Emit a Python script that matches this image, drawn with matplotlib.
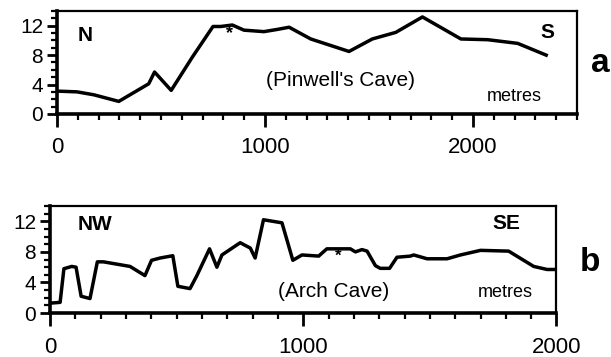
import matplotlib
matplotlib.use("Agg")
import matplotlib.pyplot as plt
from matplotlib.ticker import MultipleLocator

plt.rcParams["font.family"] = ["Liberation Sans", "DejaVu Sans"]

# profile a: Pinwell's Cave (distance m, height m)
a_x = [0, 96, 177, 297, 441, 469, 549, 650, 750, 787, 843, 899, 995, 1059, 1116,
       1220, 1404, 1516, 1629, 1757, 1942, 2071, 2215, 2352]
a_y = [3.1, 3.0, 2.6, 1.7, 4.1, 5.7, 3.2, 7.7, 11.9, 11.9, 12.1, 11.4, 11.2, 11.5, 11.8,
       10.2, 8.5, 10.2, 11.1, 13.2, 10.2, 10.1, 9.6, 8.0]

# profile b: Arch Cave
b_x = [0, 40, 55, 86, 103, 123, 158, 187, 211, 316, 375, 401, 435, 485, 505, 553, 580,
       630, 659, 679, 751, 791, 810, 843, 916, 959, 995, 1061, 1093, 1186, 1206, 1232,
       1252, 1285, 1304, 1341, 1370, 1423, 1436, 1489, 1568, 1621, 1700, 1811, 1910,
       1963, 2000]
b_y = [1.3, 1.4, 5.8, 6.1, 6.0, 2.2, 1.9, 6.7, 6.7, 6.1, 4.9, 6.9, 7.2, 7.5, 3.5, 3.2, 4.9,
       8.4, 6.0, 7.6, 9.2, 8.5, 7.2, 12.2, 11.8, 6.9, 7.6, 7.45, 8.4, 8.4, 8.0, 8.3,
       8.1, 6.2, 5.85, 5.85, 7.3, 7.45, 7.6, 7.1, 7.1, 7.6, 8.2, 8.1, 6.1,
       5.7, 5.7]

fig = plt.figure(figsize=(6.11, 3.57), dpi=100)
ax_a = fig.add_axes([0.0933, 0.681, 0.851, 0.288])
ax_b = fig.add_axes([0.0818, 0.123, 0.829, 0.300])


def style(ax, xmax):
    ax.set_xlim(0, xmax); ax.set_ylim(0, 14)
    ax.xaxis.set_major_locator(MultipleLocator(1000))
    ax.xaxis.set_minor_locator(MultipleLocator(100))
    ax.yaxis.set_major_locator(MultipleLocator(4))
    ax.yaxis.set_minor_locator(MultipleLocator(1))
    for s in ax.spines.values():
        s.set_linewidth(1.6)
    ax.spines["bottom"].set_linewidth(2.6)
    ax.spines["left"].set_linewidth(2.6)
    ax.tick_params(which="major", length=7, width=2.0, labelsize=15, pad=3)
    ax.tick_params(which="minor", length=4, width=1.6)
    ax.tick_params(axis="x", which="major", length=9, pad=8, labelsize=16)


style(ax_a, 2500)
ax_a.plot(a_x, a_y, color="black", lw=2.5)
ax_a.text(827, 10.9, "*", fontsize=13, ha="center", va="center", fontweight="bold")
ax_a.text(137, 10.7, "N", fontsize=15, fontweight="bold", ha="center", va="center")
ax_a.text(2360, 11.1, "S", fontsize=15, fontweight="bold", ha="center", va="center")
ax_a.text(1364, 4.6, "(Pinwell's Cave)", fontsize=15, ha="center", va="center")
ax_a.text(2198, 2.3, "metres", fontsize=13, ha="center", va="center")
fig.text(0.982, 0.823, "a", fontsize=24, fontweight="bold", ha="center", va="center")

style(ax_b, 2000)
ax_b.plot(b_x, b_y, color="black", lw=2.5)
ax_b.text(1137, 7.4, "*", fontsize=12, ha="center", va="center", fontweight="bold")
ax_b.text(178, 11.6, "NW", fontsize=15, fontweight="bold", ha="center", va="center")
ax_b.text(1802, 11.7, "SE", fontsize=15, fontweight="bold", ha="center", va="center")
ax_b.text(1119, 2.85, "(Arch Cave)", fontsize=15, ha="center", va="center")
ax_b.text(1798, 2.7, "metres", fontsize=13, ha="center", va="center")
fig.text(0.966, 0.266, "b", fontsize=24, fontweight="bold", ha="center", va="center")

fig.savefig("out.png", dpi=100)
